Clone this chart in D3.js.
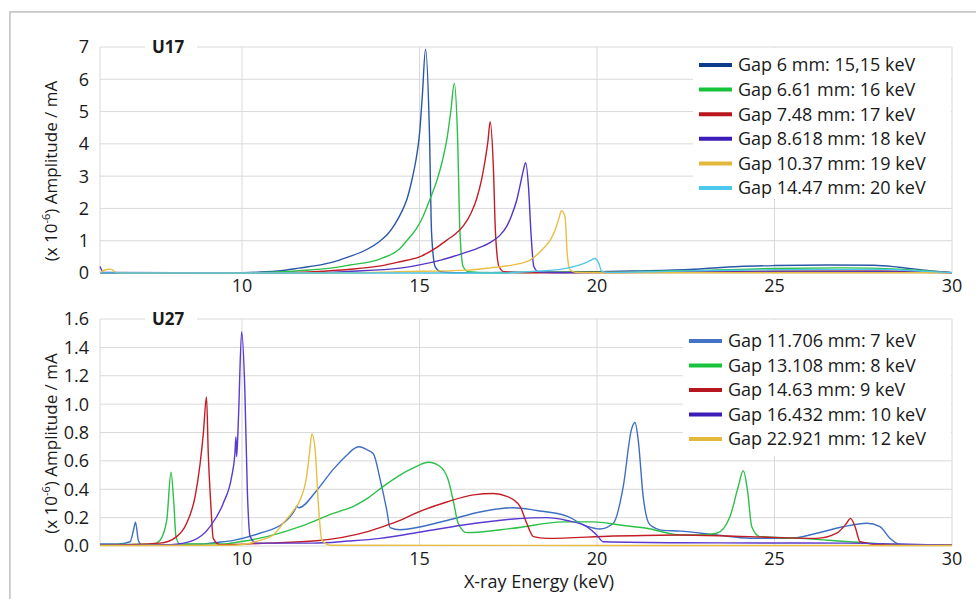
<!DOCTYPE html>
<html>
<head>
<meta charset="utf-8">
<script src="https://cdn.jsdelivr.net/npm/d3@7"></script>
<style>
  html, body { margin: 0; padding: 0; background: #fff; }
  svg { display: block; font-family: "Open Sans", sans-serif; }
</style>
</head>
<body>
<div id="visualization"></div>
<script>
// ---- data: [energy keV, amplitude] ----
var xTicks = [10, 15, 20, 25, 30];
var xGrid = [6, 10, 15, 20, 25, 30];
var u17Ticks = [0, 1, 2, 3, 4, 5, 6, 7];
var u27Ticks = [0, 0.2, 0.4, 0.6, 0.8, 1.0, 1.2, 1.4, 1.6];

var u17Labels = ['Gap 6 mm: 15,15 keV', 'Gap 6.61 mm: 16 keV', 'Gap 7.48 mm: 17 keV',
    'Gap 8.618 mm: 18 keV', 'Gap 10.37 mm: 19 keV', 'Gap 14.47 mm: 20 keV'];
var u17Colors = ['#2a58a8', '#2cc048', '#c21d25', '#5436c4', '#e8be45', '#52c6e6'];
var u17Swatch = ['#0e3c8c', '#16c43c', '#b8161e', '#3c1cb8', '#e4b83c', '#4cc8ec'];

var u27Labels = ['Gap 11.706 mm: 7 keV', 'Gap 13.108 mm: 8 keV', 'Gap 14.63 mm: 9 keV',
    'Gap 16.432 mm: 10 keV', 'Gap 22.921 mm: 12 keV'];
var u27Colors = ['#3e6fc2', '#2cc048', '#c21d25', '#5a3ad0', '#e8be45'];
var u27Swatch = ['#4472c4', '#16c43c', '#b8161e', '#3c1cb8', '#e4b83c'];

var u17Gap6 = [[6,0],[9,0],[10,0.01],[11,0.06],[11.6,0.15],[12.5,0.32],[13,0.5],[13.5,0.72],
    [13.9,1.0],[14.1,1.2],[14.3,1.5],[14.5,1.9],[14.65,2.3],[14.8,2.95],[14.9,3.5],[15.0,4.3],
    [15.08,5.5],[15.17,6.93],[15.28,4.35],[15.34,1.25],[15.44,0.2],[15.6,0.04],[16,0.01],[18,0.02],
    [20,0.04],[21,0.06],[22.6,0.11],[24,0.2],[25,0.23],[26.5,0.25],[27.8,0.24],[28.5,0.18],
    [29.3,0.08],[30,0.01]];
var u17Gap661 = [[6,0],[10,0],[11,0.03],[11.6,0.07],[12.5,0.15],[13,0.24],[13.9,0.44],[14.45,0.76],
    [14.64,1.0],[14.9,1.35],[15.1,1.75],[15.3,2.3],[15.5,2.9],[15.65,3.5],[15.78,4.2],[15.88,5.0],
    [15.98,5.87],[16.07,4.3],[16.14,1.25],[16.23,0.2],[16.37,0.04],[17,0.01],[20,0.03],[22.6,0.07],
    [25,0.14],[27,0.16],[28.5,0.12],[30,0.01]];
var u17Gap748 = [[6,0],[11,0],[12,0.04],[13,0.11],[13.9,0.22],[14.45,0.35],[15,0.5],[15.5,0.8],
    [15.77,1.02],[16.0,1.2],[16.23,1.45],[16.45,1.85],[16.61,2.3],[16.75,2.9],[16.85,3.5],
    [16.93,4.1],[16.99,4.69],[17.08,3.3],[17.14,1.25],[17.24,0.2],[17.38,0.04],[18,0.01],[22,0.03],
    [25,0.06],[28,0.06],[30,0.01]];
var u17Gap8618 = [[6,0.2],[6.1,0.02],[12,0],[13,0.05],[14.45,0.15],[15,0.25],[15.6,0.4],[16.23,0.61],
    [16.6,0.75],[17.0,0.95],[17.25,1.15],[17.46,1.45],[17.6,1.8],[17.74,2.26],[17.85,2.8],
    [17.93,3.2],[17.99,3.42],[18.07,2.67],[18.14,1.24],[18.22,0.2],[18.35,0.04],[19,0.01],[24,0.03],
    [28,0.04],[30,0.01]];
var u17Gap1037 = [[6,0],[6.15,0.1],[6.3,0.12],[6.45,0.02],[6.6,0],[13,0],[14.45,0.04],[16.33,0.09],
    [17,0.16],[17.64,0.25],[18.11,0.4],[18.48,0.75],[18.7,1.05],[18.82,1.33],[18.93,1.7],[19.0,1.93],
    [19.1,1.74],[19.16,0.61],[19.24,0.1],[19.4,0.02],[20,0.01],[30,0.01]];
var u17Gap1447 = [[6,0],[17,0],[18.39,0.06],[19,0.12],[19.52,0.25],[19.8,0.38],[19.94,0.45],
    [20.05,0.3],[20.13,0.06],[20.3,0.02],[22,0.05],[25,0.1],[28,0.11],[29.3,0.05],[30,0.01]];

var u27Gap11706 = [[6,0.015],[6.5,0.014],[6.85,0.03],[6.95,0.12],[7.0,0.167],[7.08,0.04],[7.17,0.008],
    [8,0.01],[8.8,0.012],[9.3,0.025],[9.76,0.04],[10.5,0.09],[11.16,0.16],[11.5,0.26],[11.54,0.28],
    [11.6,0.27],[12.1,0.39],[12.57,0.54],[12.95,0.64],[13.18,0.69],[13.3,0.7],[13.51,0.68],
    [13.7,0.65],[13.89,0.47],[14.08,0.25],[14.17,0.13],[14.45,0.115],[15.77,0.18],[16.7,0.24],
    [17.64,0.27],[18.3,0.25],[19.15,0.21],[19.71,0.14],[20.08,0.12],[20.46,0.16],[20.74,0.42],
    [20.97,0.82],[21.07,0.87],[21.16,0.75],[21.3,0.35],[21.49,0.15],[21.87,0.11],[22.34,0.105],
    [23.37,0.078],[24.31,0.055],[25.44,0.055],[26.19,0.09],[26.94,0.136],[27.6,0.16],[27.97,0.136],
    [28.25,0.055],[28.54,0.012],[30,0.005]];
var u27Gap13108 = [[6,0.01],[7.5,0.012],[7.69,0.04],[7.88,0.18],[8.0,0.52],[8.08,0.3],[8.14,0.066],
    [8.25,0.014],[9.5,0.015],[9.94,0.03],[10.7,0.066],[11.63,0.136],[12.57,0.23],[13.14,0.28],
    [13.5,0.33],[13.98,0.42],[14.45,0.5],[14.83,0.55],[15.25,0.59],[15.58,0.56],[15.81,0.465],
    [15.95,0.32],[16.09,0.16],[16.33,0.094],[17.64,0.125],[19.05,0.17],[19.9,0.17],[20.65,0.148],
    [21.4,0.125],[22.34,0.078],[22.9,0.078],[23.37,0.09],[23.75,0.21],[23.98,0.42],[24.12,0.53],
    [24.24,0.39],[24.36,0.136],[24.59,0.066],[25.72,0.054],[27.13,0.03],[28.54,0.01],[30,0.005]];
var u27Gap1463 = [[6,0.005],[7.69,0.02],[8.16,0.066],[8.44,0.16],[8.68,0.35],[8.82,0.58],[8.91,0.79],
    [9.0,1.05],[9.05,0.65],[9.12,0.3],[9.19,0.054],[9.38,0.01],[10.7,0.02],[12.1,0.037],[13.51,0.1],
    [13.89,0.13],[14.45,0.18],[14.83,0.225],[15.77,0.31],[16.52,0.36],[17.08,0.37],[17.46,0.35],
    [17.83,0.28],[18.02,0.16],[18.21,0.066],[18.58,0.054],[20.46,0.07],[22.34,0.078],[24.31,0.066],
    [26.19,0.054],[26.75,0.09],[27.03,0.16],[27.14,0.195],[27.27,0.136],[27.41,0.03],[28,0.01],[30,0.005]];
var u27Gap16432 = [[6,0.005],[8,0.01],[8.63,0.04],[9.1,0.136],[9.47,0.3],[9.71,0.49],[9.8,0.65],
    [9.83,0.77],[9.85,0.63],[9.9,0.9],[9.99,1.51],[10.08,1.1],[10.15,0.395],[10.23,0.066],[10.41,0.02],
    [12,0.02],[13,0.035],[13.89,0.054],[14.83,0.09],[16.23,0.148],[17.64,0.19],[18.58,0.2],[19.15,0.18],
    [19.71,0.136],[19.99,0.078],[20.18,0.03],[22.34,0.023],[27,0.02],[30,0.005]];
var u27Gap22921 = [[6,0.003],[9.75,0.005],[10.5,0.04],[10.88,0.078],[11.16,0.16],[11.45,0.25],
    [11.63,0.32],[11.82,0.49],[11.9,0.65],[11.97,0.79],[12.06,0.68],[12.15,0.3],[12.25,0.04],
    [12.5,0.005],[30,0.003]];

var u17Series = [u17Gap6, u17Gap661, u17Gap748, u17Gap8618, u17Gap1037, u17Gap1447];
var u27Series = [u27Gap11706, u27Gap13108, u27Gap1463, u27Gap16432, u27Gap22921];

// ---- page ----
var W = 976, H = 599;
var svg = d3.select('#visualization')
    .append('svg')
    .attr('width', W)
    .attr('height', H);

svg.append('rect').attr('width', W).attr('height', H).attr('fill', '#fff');

// outer frame with soft shadow
svg.append('rect')
    .attr('x', 11).attr('y', 13)
    .attr('width', 1000).attr('height', 700)
    .attr('fill', 'none')
    .attr('stroke', '#e6e6e6')
    .attr('stroke-width', 4);
svg.append('rect')
    .attr('x', 10).attr('y', 12)
    .attr('width', 1000).attr('height', 700)
    .attr('fill', '#fff')
    .attr('stroke', '#b8b8b8')
    .attr('stroke-width', 1.2);

var x = d3.scaleLinear().domain([6, 30]).range([100, 952]);

function drawPanel(cfg) {
    var y = d3.scaleLinear().domain(cfg.domain).range([cfg.bottom, cfg.top]);
    var g = svg.append('g');

    // gridlines
    g.selectAll('.hgrid')
        .data(cfg.ticks)
        .enter()
        .append('line')
        .attr('x1', x(6)).attr('x2', x(30))
        .attr('y1', function(d) { return y(d) })
        .attr('y2', function(d) { return y(d) })
        .attr('stroke', '#d9d9d9')
        .attr('stroke-width', 1);
    g.selectAll('.vgrid')
        .data(xGrid)
        .enter()
        .append('line')
        .attr('x1', function(d) { return x(d) })
        .attr('x2', function(d) { return x(d) })
        .attr('y1', cfg.top).attr('y2', cfg.bottom)
        .attr('stroke', '#d9d9d9')
        .attr('stroke-width', 1);

    // tick labels
    g.selectAll('.ylab')
        .data(cfg.ticks)
        .enter()
        .append('text')
        .attr('x', 89)
        .attr('y', function(d) { return y(d) })
        .attr('dy', '0.36em')
        .attr('text-anchor', 'end')
        .style('font-size', '18px')
        .attr('fill', '#1a1a1a')
        .text(function(d) { return cfg.fmt(d) });
    g.selectAll('.xlab')
        .data(xTicks)
        .enter()
        .append('text')
        .attr('x', function(d) { return x(d) })
        .attr('y', cfg.bottom + 13)
        .attr('dy', '0.36em')
        .attr('text-anchor', 'middle')
        .style('font-size', '18px')
        .attr('fill', '#1a1a1a')
        .text(function(d) { return d });

    // y axis title with superscript
    var yt = g.append('text')
        .attr('transform', 'translate(57,' + ((cfg.top + cfg.bottom) / 2 + 11) + ') rotate(-90)')
        .attr('text-anchor', 'middle')
        .style('font-size', '17px')
        .attr('fill', '#1a1a1a');
    yt.append('tspan').text('(x 10');
    yt.append('tspan').attr('dy', -7).style('font-size', '11px').text('-6');
    yt.append('tspan').attr('dy', 7).text(') Amplitude / mA');

    // curves
    var line = d3.line()
        .x(function(d) { return x(d[0]) })
        .y(function(d) { return y(d[1]) })
        .curve(d3.curveMonotoneX);
    g.selectAll('.curve')
        .data(cfg.series)
        .enter()
        .append('path')
        .attr('d', line)
        .attr('fill', 'none')
        .attr('stroke', function(d, i) { return cfg.colors[i] })
        .attr('stroke-width', 1.4)
        .attr('stroke-linejoin', 'round');

    // panel title on a white patch
    g.append('rect')
        .attr('x', 145).attr('y', cfg.top - 10)
        .attr('width', 52).attr('height', 20)
        .attr('fill', '#fff');
    g.append('text')
        .attr('x', 152)
        .attr('y', cfg.top)
        .attr('dy', '0.36em')
        .style('font-size', '17px')
        .style('font-weight', 'bold')
        .attr('fill', '#1a1a1a')
        .text(cfg.title);

    // legend
    var lg = cfg.legend;
    g.append('rect')
        .attr('x', lg.x).attr('y', cfg.top + 1)
        .attr('width', x(30) - lg.x - 1).attr('height', lg.h)
        .attr('fill', '#fff');
    var items = g.selectAll('.leg')
        .data(cfg.labels)
        .enter()
        .append('g')
        .attr('transform', function(d, i) { return 'translate(0,' + (lg.y0 + i * lg.step) + ')' });
    items.append('line')
        .attr('x1', lg.x + 6).attr('x2', lg.x + 39)
        .attr('stroke', function(d, i) { return cfg.swatch[i] })
        .attr('stroke-width', 4);
    items.append('text')
        .attr('x', lg.x + 45)
        .attr('dy', '0.36em')
        .style('font-size', '18px')
        .attr('fill', '#1a1a1a')
        .text(function(d) { return d });
}

drawPanel({
    title: 'U17', domain: [0, 7], top: 47, bottom: 273, ticks: u17Ticks,
    fmt: d3.format('d'), series: u17Series, colors: u17Colors, swatch: u17Swatch,
    labels: u17Labels, legend: { x: 693, h: 151, y0: 65, step: 24.6 }
});
drawPanel({
    title: 'U27', domain: [0, 1.6], top: 319, bottom: 546, ticks: u27Ticks,
    fmt: d3.format('.1f'), series: u27Series, colors: u27Colors, swatch: u27Swatch,
    labels: u27Labels, legend: { x: 683, h: 136, y0: 341, step: 24.5 }
});

// x axis title
svg.append('text')
    .attr('x', 539)
    .attr('y', 582)
    .attr('dy', '0.36em')
    .attr('text-anchor', 'middle')
    .style('font-size', '18px')
    .attr('fill', '#1a1a1a')
    .text('X-ray Energy (keV)');
</script>
</body>
</html>
